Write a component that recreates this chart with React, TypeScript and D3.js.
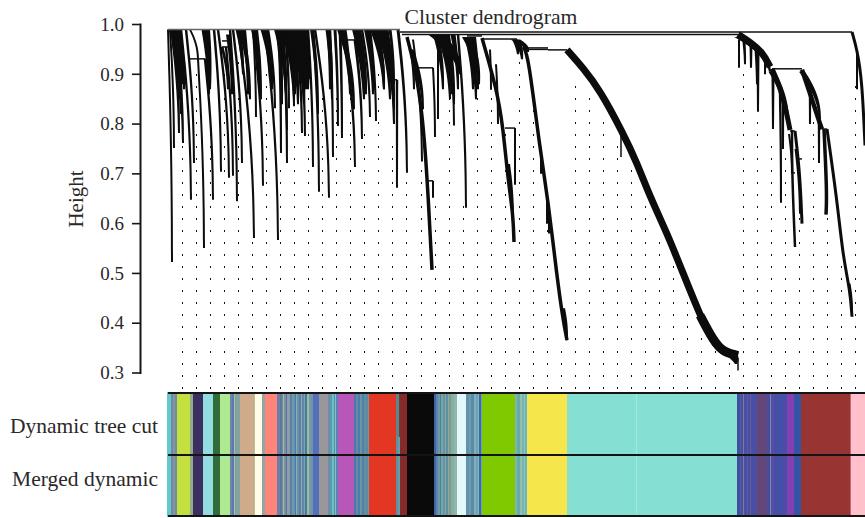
import React from "react"
import * as d3 from "d3"

const width = 865
const height = 518
const textColor = "#2b2829"
const serif = "'Liberation Serif', serif"

const yTicks = [1.0, 0.9, 0.8, 0.7, 0.6, 0.5, 0.4, 0.3]
const rowLabels = ["Dynamic tree cut", "Merged dynamic"]

// first height where the dotted guide shows, one per guide column
const guideTop = [
  0.758, 0.899, 0.802, 0.899, 0.923, 0.561, 0.899, 0.708, 0.899, 0.899,
  0.875, 0.851, 0.899, 0.778, 0.899, 0.754, 0.682, 0.706, 0.634, 0.899,
  0.634, 0.851, 0.851, 0.778, 0.923, 0.826, 0.634, 0.344, 0.875, 0.851,
  0.802, 0.754, 0.706, 0.634, 0.561, 0.513, 0.441, 0.368, 0.344, 0.32,
  0.899, 0.802, 0.754, 0.73, 0.609, 0.802, 0.617, 0.513, 0.875,
]

// [from, to, height] merges
const links = [
  [0, 232, 0.99], [232, 684, 0.985], [234, 570, 0.98], [299, 314, 0.977],
  [22, 37, 0.931], [54, 60, 0.967], [54, 60, 0.955], [177, 187, 0.969],
  [224, 229, 0.889], [247, 265, 0.913], [260, 265, 0.686], [314, 349, 0.971],
  [337, 347, 0.792], [360, 380, 0.953], [360, 380, 0.95], [380, 399, 0.949], [604, 634, 0.911],
  [622, 627, 0.786], [631, 634, 0.73], [624, 627, 0.702], [654, 659, 0.79],
]

// dense short leaves packed under the top merge
const massLeft = [
  [7, 14, 0.99, 0.88, 9], [8, 13, 0.99, 0.82, 7], [38, 42, 0.99, 0.87, 8], [60, 64, 0.98, 0.86, 4],
  [70, 75, 0.99, 0.9, 5], [76, 80, 0.99, 0.86, 4], [86, 92, 0.99, 0.87, 6], [96, 104, 0.99, 0.87, 7],
  [110, 118, 0.99, 0.86, 8], [118, 126, 0.99, 0.85, 8], [124, 140, 0.99, 0.87, 14], [128, 136, 0.99, 0.84, 10],
  [160, 164, 0.99, 0.85, 5], [144, 150, 0.99, 0.82, 4], [172, 186, 0.99, 0.83, 6], [188, 196, 0.99, 0.85, 8],
  [206, 216, 0.99, 0.87, 8], [212, 226, 0.99, 0.83, 8], [218, 226, 0.99, 0.8, 5], [243, 255, 0.95, 0.83, 5],
  [268, 292, 0.98, 0.9, 16], [274, 284, 0.98, 0.86, 10], [299, 311, 0.975, 0.88, 10], [347, 360, 0.97, 0.945, 10],
  [570, 602, 0.975, 0.905, 8], [604, 620, 0.905, 0.8, 7], [634, 652, 0.905, 0.81, 6],
]

// [from, to, top, bottom, size] small branches, left part of the tree
const cladeLeft = [
  [0, 4, 0.99, 0.523, 2], [2, 6, 0.99, 0.752, 2], [4, 11, 0.99, 0.782, 4],
  [6, 15, 0.99, 0.762, 4], [8, 12, 0.99, 0.85, 6], [10, 16, 0.99, 0.87, 5],
  [13, 23, 0.99, 0.648, 2.5], [18, 26, 0.99, 0.722, 2.5], [22, 30, 0.99, 0.931, 2],
  [30, 36, 0.931, 0.551, 2], [37, 45, 0.931, 0.648, 2.5], [36, 41, 0.99, 0.86, 5],
  [46, 53, 0.99, 0.704, 2.5], [50, 61, 0.99, 0.692, 2.5], [54, 60, 0.955, 0.87, 3],
  [58, 65, 0.955, 0.696, 2.5], [62, 69, 0.99, 0.645, 2.5], [65, 74, 0.99, 0.722, 2.5],
  [70, 86, 0.99, 0.571, 2.5], [73, 82, 0.99, 0.85, 5], [85, 88, 0.99, 0.814, 2],
  [85, 95, 0.99, 0.676, 2.5], [88, 93, 0.99, 0.85, 4], [97, 110, 0.99, 0.567, 2.5],
  [98, 102, 0.99, 0.89, 5], [100, 107, 0.99, 0.832, 2.5], [110, 114, 0.99, 0.84, 5],
  [111, 113, 0.99, 0.742, 3], [115, 119, 0.99, 0.722, 3], [113, 119, 0.99, 0.788, 3],
  [117, 121, 0.99, 0.832, 3], [120, 126, 0.99, 0.836, 3], [122, 127, 0.99, 0.86, 5],
]

// same columns, the part between the left mass and the first long clade
const cladeCentre = [
  [124, 130, 0.99, 0.84, 6], [127, 134, 0.99, 0.782, 3], [130, 137, 0.99, 0.776, 3],
  [132, 138, 0.99, 0.87, 7], [136, 141, 0.99, 0.89, 6], [140, 145, 0.99, 0.714, 2.5],
  [145, 151, 0.99, 0.664, 2.5], [147, 161, 0.99, 0.652, 2.5], [162, 165, 0.99, 0.734, 2.5],
  [160, 162, 0.99, 0.87, 3], [167, 170, 0.99, 0.796, 3], [172, 174, 0.99, 0.772, 3],
  [174, 187, 0.99, 0.714, 3], [176, 182, 0.99, 0.86, 5], [187, 194, 0.969, 0.77, 3],
  [194, 202, 0.99, 0.814, 2.5], [202, 208, 0.99, 0.806, 2.5], [190, 198, 0.99, 0.86, 6],
  [199, 205, 0.99, 0.86, 6], [208, 216, 0.99, 0.87, 5], [212, 222, 0.99, 0.85, 6],
  [218, 226, 0.99, 0.85, 4], [222, 226, 0.99, 0.88, 3], [229, 229, 0.889, 0.672, 2.5],
  [215, 224, 0.99, 0.889, 3], [230, 239, 0.99, 0.702, 3], [245, 254, 0.97, 0.725, 2],
  [243, 246, 0.95, 0.87, 3], [265, 267, 0.913, 0.774, 2], [265, 265, 0.686, 0.652, 2],
]

const cladeMiddle = [
  [268, 275, 0.98, 0.87, 6], [272, 282, 0.98, 0.85, 6], [270, 270, 0.98, 0.81, 2],
  [278, 286, 0.98, 0.84, 7], [281, 286, 0.98, 0.797, 2], [285, 290, 0.98, 0.87, 5],
  [290, 298, 0.98, 0.632, 2.5], [299, 305, 0.975, 0.87, 5], [302, 308, 0.975, 0.85, 6],
  [306, 310, 0.975, 0.87, 4], [322, 323, 0.95, 0.869, 2], [328, 330, 0.92, 0.8, 2],
  [347, 347, 0.792, 0.678, 2], [340, 345, 0.72, 0.6, 4], [347, 350, 0.97, 0.94, 6],
  [350, 354, 0.965, 0.93, 6], [373, 373, 0.75, 0.7, 2], [379, 379, 0.66, 0.6, 2],
  [381, 381, 0.62, 0.58, 2], [395, 399, 0.43, 0.366, 4], [453, 453, 0.78, 0.734, 1.5],
  [558, 568, 0.346, 0.318, 18], [570, 570, 0.33, 0.305, 1.5],
]

const cladeRight = [
  [571, 571, 0.97, 0.913, 2], [576, 577, 0.965, 0.92, 3], [583, 583, 0.96, 0.913, 3],
  [588, 589, 0.95, 0.88, 3], [590, 590, 0.945, 0.825, 3], [597, 597, 0.93, 0.9, 2],
  [612, 613, 0.87, 0.642, 2.5], [605, 605, 0.9, 0.79, 3], [615, 615, 0.85, 0.75, 2.5],
  [621, 624, 0.78, 0.7, 2], [628, 632, 0.75, 0.62, 3], [642, 642, 0.87, 0.8, 2.5],
  [651, 651, 0.81, 0.722, 2.5], [681, 684, 0.48, 0.42, 3], [689, 689, 0.95, 0.87, 2],
]

// long clades traced as [position, height]
const pathBrown = [[239, 0.975], [247, 0.913], [254, 0.828], [259, 0.702], [264, 0.507]]
const pathGreen = [[314, 0.973], [329, 0.868], [335, 0.794], [340, 0.688], [345, 0.621], [346, 0.563]]
const pathYellow = [[355, 0.955], [360, 0.943], [372, 0.748], [380, 0.648], [389, 0.493], [395, 0.407], [399, 0.366]]
const pathTurquoise = [
  [399, 0.949], [415, 0.913], [432, 0.868], [455, 0.782], [469, 0.722], [482, 0.654],
  [499, 0.581], [515, 0.501], [532, 0.416], [545, 0.362], [555, 0.34], [570, 0.336],
]
const pathTurquoiseEnd = [[532, 0.416], [545, 0.366], [555, 0.342], [570, 0.335]]
const pathBlueTop = [[570, 0.98], [582, 0.965], [595, 0.943], [602, 0.915]]
const pathBlueA = [[604, 0.911], [612, 0.875], [619, 0.82], [622, 0.788]]
const pathBlueB = [[624, 0.788], [624, 0.702], [627, 0.553]]
const pathBlueC = [[627, 0.786], [632, 0.7], [634, 0.6]]
const pathBrownA = [[634, 0.909], [642, 0.862], [652, 0.8], [654, 0.79]]
const pathBrownB = [[656, 0.79], [659, 0.66], [658, 0.618]]
const pathBrownC = [[659, 0.79], [669, 0.648], [675, 0.533], [682, 0.467], [684, 0.413]]
const pathPink = [[684, 0.985], [689, 0.95], [694, 0.89], [697, 0.757]]

const longPaths: [number[][], number][] = [
  [pathBrown, 3.5], [pathGreen, 3.5], [pathYellow, 3.5], [pathTurquoise, 7], [pathTurquoiseEnd, 9],
  [pathBlueTop, 7], [pathBlueA, 5], [pathBlueB, 2.5], [pathBlueC, 3], [pathBrownA, 4.5],
  [pathBrownB, 3.5], [pathBrownC, 3], [pathPink, 3],
]

// module colours and their sizes along the tree, left to right
const moduleColors = [
  "#62c9cc", "#6f8aa0", "#8894a0", "#6a8fa5", "#c4e03e", "#94a88a", "#3a2f5f", "#93dde2",
  "#306b38", "#aeea92", "#6f86a8", "#5d78ad", "#a4c59c", "#8a9aa8", "#6ab0a8", "#88a29a",
  "#cdab8b", "#b8bf9e", "#fffde6", "#8da8a8", "#ff857a",
  "#6d7fa8", "#5f75a2", "#7b86a0", "#8ec98f", "#7e8ca8", "#4f77ac", "#9a9a9e", "#7da0a5",
  "#5a80ad", "#8593a4", "#5f9ab0", "#4b78aa", "#7fb5a8", "#6d8fa8", "#5a7eb0", "#94aa9c",
  "#5f86ab", "#7aa6a6", "#4e74ae", "#8fc890", "#7f95a6", "#6d94ac",
  "#5470bd", "#999799", "#6f8ea8", "#5a9ab4", "#6ec0c0", "#5690ac", "#7fc4c0", "#5f82b4",
  "#b856b9", "#4f78a8", "#5f8ca8", "#4a7cb0", "#6f94a0", "#507fa8", "#6090a0", "#5a8aa4", "#6f9aa0",
  "#e33724", "#5f8f9a", "#6a9ca8", "#842a28", "#0a0a0a",
  "#3f62a8", "#5a86a8", "#6c9aa8", "#4f7fa8", "#7aa5a8", "#6496a8", "#8aa890", "#5f8fa5",
  "#a0a878", "#6f9ca6", "#88aea0", "#90b8a8", "#e4f8fb",
  "#5f94ac", "#6c9db0", "#5a8aa8", "#7fb0b8", "#6ca4b4", "#7fb8b4", "#3f68a8", "#6ca0b0",
  "#80c800", "#7fb8a0", "#6aa8b0", "#8cc4a8", "#7ab4b0", "#8cc4bc", "#6ab4c0",
  "#f4e64b", "#85dfd3", "#a0e8de", "#85dfd3",
  "#3f4fa0", "#5a58a0", "#4a4ea0", "#7a7a9a", "#4650a4", "#5e5a9a", "#4a4ea2", "#6a5aa0",
  "#4650a4", "#4d4ea0", "#654679", "#3f50a4", "#808a90", "#5c4aa8", "#4450a8", "#4a4ea8",
  "#8440b0", "#3653a6", "#983431", "#c06a70", "#ffc0cb",
]
const moduleSizes = [
  4, 2, 2, 2, 13, 3, 10, 10,
  7, 10, 2, 2, 1, 2, 1, 2,
  14, 1, 7, 3, 12,
  3, 2, 1, 1, 2, 1, 2, 1,
  2, 1, 2, 1, 1, 2, 2, 1,
  2, 1, 2, 2, 2, 2,
  6, 9, 2, 2, 2, 1, 1, 2,
  16, 2, 2, 2, 2, 2, 2, 2, 1,
  27, 2, 2, 7, 27,
  2, 2, 2, 1, 2, 2, 1, 2,
  1, 2, 3, 3, 9,
  3, 2, 3, 2, 2, 1, 2, 1,
  33, 2, 3, 2, 2, 1, 2,
  40, 69, 1, 100,
  3, 1, 2, 1, 3, 1, 2, 1,
  4, 2, 10, 3, 1, 3, 8, 5,
  7, 7, 49, 1, 14,
]

// genes the first row still has apart before merging
const unmergedColors = ["#5d8590", "#7a3a2a"]
const unmergedSizes = [3, 1]
const unmergedStart = 228

const x = d3.scaleLinear().domain([0, 697]).range([168, 865])
const y = d3.scaleLinear().domain([0.3, 1]).range([373, 24.5])

const guideRows = d3.range(0, 30).map((k) => 0.2707 + k * 0.02416)

const line = d3
  .line<number[]>()
  .x((d) => x(d[0]))
  .y((d) => y(d[1]))
  .curve(d3.curveBasis)

const branchArea = d3
  .area<[number, number, number]>()
  .x0((d) => d[0] - d[2] / 2)
  .x1((d) => d[0] + d[2] / 2)
  .y((d) => d[1])
  .curve(d3.curveBasis)

// branches lean at the top and run straight down at the leaf end
const branchPath = (b: number[]) => {
  const [from, to, top, bottom, size] = b
  return branchArea(
    d3.range(0, 1.01, 0.2).map((t) => [
      x(from + (to - from) * (1 - (1 - t) * (1 - t))),
      y(top + (bottom - top) * t),
      size * (1 - t) + Math.min(size, 2) * t,
    ])
  )
}

const stack = (sizes: number[], start: number) => {
  let at = start
  return sizes.map((s) => {
    const x0 = at
    at += s
    return [x0, at]
  })
}

const App = () => {
  const spans = stack(moduleSizes, -1)
  const patch = stack(unmergedSizes, unmergedStart)

  return (
    <svg
      width={width}
      height={height}
      style={{ position: "absolute", left: 0, top: 0, background: "#fff" }}
    >
      <text x={491} y={24} textAnchor="middle" fontFamily={serif} fontSize={21.7} fill={textColor}>
        Cluster dendrogram
      </text>

      <line x1={140.5} x2={140.5} y1={y(1) - 1} y2={y(0.3) + 1} stroke="#161616" strokeWidth={2} />
      {yTicks.map((t) => (
        <g key={t} transform={`translate(0, ${y(t)})`}>
          <line x1={132} x2={140} stroke="#161616" strokeWidth={1.6} />
          <text x={124} dy="0.33em" textAnchor="end" fontFamily={serif} fontSize={19} fill={textColor}>
            {t.toFixed(1)}
          </text>
        </g>
      ))}
      <text
        transform="translate(83, 199) rotate(-90)"
        textAnchor="middle"
        fontFamily={serif}
        fontSize={21}
        fill={textColor}
      >
        Height
      </text>

      {guideTop.map((top, i) =>
        guideRows
          .filter((h) => h <= top + 0.004)
          .map((h) => (
            <rect
              key={`${i}-${h}`}
              x={Math.round(x(14 + i * 14.03))}
              y={Math.round(y(h)) - 1}
              width={1}
              height={2}
              fill="#111"
            />
          ))
      )}

      {[...massLeft, ...cladeLeft, ...cladeCentre, ...cladeMiddle, ...cladeRight].map((b, i) => (
        <path key={i} d={branchPath(b) ?? ""} fill="#0c0c0c" />
      ))}
      {longPaths.map(([pts, w], i) => (
        <path key={i} d={line(pts) ?? ""} fill="none" stroke="#0c0c0c" strokeWidth={w} />
      ))}
      {links.map(([from, to, h], i) => (
        <line
          key={i}
          x1={x(from)}
          x2={x(to)}
          y1={y(h)}
          y2={y(h)}
          stroke={i === 0 ? "#666" : "#111"}
          strokeWidth={1.5}
        />
      ))}

      {spans.map(([x0, x1], i) => (
        <rect
          key={i}
          x={x(x0)}
          y={392}
          width={x(x1) - x(x0)}
          height={125}
          fill={moduleColors[i]}
        />
      ))}
      {patch.map(([x0, x1], i) => (
        <rect
          key={i}
          x={x(x0)}
          y={393}
          width={x(x1) - x(x0)}
          height={44}
          fill={unmergedColors[i]}
        />
      ))}
      {[393, 455, 516].map((ly) => (
        <line key={ly} x1={168} x2={865} y1={ly} y2={ly} stroke="#141414" strokeWidth={2} />
      ))}
      {rowLabels.map((label, i) => (
        <text
          key={label}
          x={158}
          y={i === 0 ? 433 : 486}
          textAnchor="end"
          fontFamily={serif}
          fontSize={21.5}
          fill={textColor}
        >
          {label}
        </text>
      ))}
    </svg>
  )
}

export default App
